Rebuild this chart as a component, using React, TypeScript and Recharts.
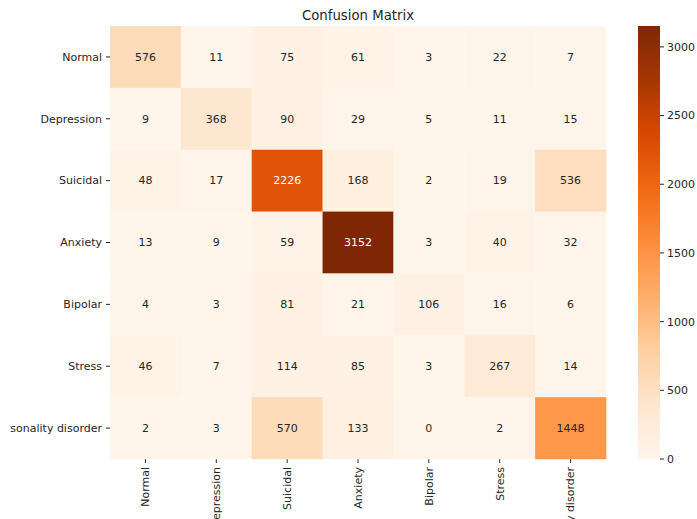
import { ScatterChart, Scatter, XAxis, YAxis, BarChart, Bar } from "recharts"

const labels = ["Normal", "Depression", "Suicidal", "Anxiety", "Bipolar", "Stress", "Personality disorder"]

const rowNormal = [576, 11, 75, 61, 3, 22, 7]
const rowDepression = [9, 368, 90, 29, 5, 11, 15]
const rowSuicidal = [48, 17, 2226, 168, 2, 19, 536]
const rowAnxiety = [13, 9, 59, 3152, 3, 40, 32]
const rowBipolar = [4, 3, 81, 21, 106, 16, 6]
const rowStress = [46, 7, 114, 85, 3, 267, 14]
const rowPersonality = [2, 3, 570, 133, 0, 2, 1448]

const matrix = [rowNormal, rowDepression, rowSuicidal, rowAnxiety, rowBipolar, rowStress, rowPersonality]
const colorbarTicks = [0, 500, 1000, 1500, 2000, 2500, 3000]

const W = 697
const H = 519
const PLOT_LEFT = 110
const PLOT_RIGHT = 606
const PLOT_TOP = 26
const PLOT_BOTTOM = 459
const CELL_W = (PLOT_RIGHT - PLOT_LEFT) / 7
const CELL_H = (PLOT_BOTTOM - PLOT_TOP) / 7
const FONT = "DejaVu Sans, sans-serif"
const INK = "#262626"

const vmax = Math.max(...matrix.flat())
const vmin = Math.min(...matrix.flat())

// matplotlib "Oranges"
const oranges = ["#fff5eb", "#fee6ce", "#fdd0a2", "#fdae6b", "#fd8d3c", "#f16913", "#d94801", "#a63603", "#7f2704"]

function hexToRgb(h: string) {
  return [1, 3, 5].map((i) => parseInt(h.slice(i, i + 2), 16))
}

function colorAt(t: number) {
  const c = Math.min(1, Math.max(0, t)) * (oranges.length - 1)
  const i = Math.min(oranges.length - 2, Math.floor(c))
  const f = c - i
  const a = hexToRgb(oranges[i])
  const b = hexToRgb(oranges[i + 1])
  return a.map((v, k) => Math.round(v + (b[k] - v) * f))
}

function luminance(rgb: number[]) {
  const lin = rgb.map((v) => {
    const s = v / 255
    return s <= 0.03928 ? s / 12.92 : Math.pow((s + 0.055) / 1.055, 2.4)
  })
  return 0.2126 * lin[0] + 0.7152 * lin[1] + 0.0722 * lin[2]
}

const cells = matrix.flatMap((row, i) =>
  row.map((value, j) => ({ x: j + 0.5, y: i + 0.5, value }))
)
const positions = labels.map((_, i) => i + 0.5)

function Cell(props: any) {
  const { cx, cy, payload } = props
  const rgb = colorAt((payload.value - vmin) / (vmax - vmin))
  const textColor = luminance(rgb) > 0.408 ? INK : "#ffffff"
  return (
    <g>
      <rect
        x={cx - CELL_W / 2}
        y={cy - CELL_H / 2}
        width={CELL_W + 0.3}
        height={CELL_H + 0.3}
        fill={`rgb(${rgb.join(",")})`}
      />
      <text x={cx} y={cy} dy="0.35em" textAnchor="middle" fontSize={11} fontFamily={FONT} fill={textColor}>
        {payload.value}
      </text>
    </g>
  )
}

// the reference figure cuts the long row label ~10px in from the left edge
function YTick(props: any) {
  const { x, y, payload } = props
  return (
    <text
      x={x}
      y={y}
      dy="0.35em"
      textAnchor="end"
      fontSize={11}
      fontFamily={FONT}
      fill={INK}
      clipPath="url(#leftEdge)"
    >
      {labels[Math.floor(payload.value)]}
    </text>
  )
}

function XTick(props: any) {
  const { x, y, payload } = props
  return (
    <g transform={`translate(${x},${y})`}>
      <text transform="rotate(-90)" x={0} y={0} dy="0.35em" textAnchor="end" fontSize={11} fontFamily={FONT} fill={INK}>
        {labels[Math.floor(payload.value)]}
      </text>
    </g>
  )
}

const colorbarData = [{ name: "cb", v: vmax }]

export default function App() {
  return (
    <div style={{ position: "absolute", left: 0, top: 0, width: W, height: H, background: "#fff" }}>
      <div
        style={{
          position: "absolute",
          left: PLOT_LEFT,
          width: PLOT_RIGHT - PLOT_LEFT,
          top: 8,
          textAlign: "center",
          fontFamily: FONT,
          fontSize: 13.3,
          color: INK,
        }}
      >
        Confusion Matrix
      </div>
      <div style={{ position: "absolute", left: 0, top: 0 }}>
        <ScatterChart width={W} height={H} margin={{ top: PLOT_TOP, right: W - PLOT_RIGHT, bottom: 0, left: 0 }}>
          <defs>
            <clipPath id="leftEdge" clipPathUnits="userSpaceOnUse">
              <rect x={10} y={0} width={W} height={H} />
            </clipPath>
          </defs>
          <XAxis
            type="number"
            dataKey="x"
            domain={[0, 7]}
            ticks={positions}
            interval={0}
            height={H - PLOT_BOTTOM}
            axisLine={false}
            tickSize={4}
            tickMargin={4}
            tickLine={{ stroke: INK }}
            tick={<XTick />}
          />
          <YAxis
            type="number"
            dataKey="y"
            domain={[0, 7]}
            reversed
            ticks={positions}
            interval={0}
            width={PLOT_LEFT}
            axisLine={false}
            tickSize={4}
            tickMargin={4}
            tickLine={{ stroke: INK }}
            tick={<YTick />}
          />
          <Scatter data={cells} shape={<Cell />} isAnimationActive={false} />
        </ScatterChart>
      </div>
      <div style={{ position: "absolute", left: 0, top: 0 }}>
        <BarChart
          width={W}
          height={H}
          data={colorbarData}
          margin={{ top: PLOT_TOP, right: 0, bottom: H - PLOT_BOTTOM, left: 638 }}
          barCategoryGap={0}
        >
          <defs>
            <linearGradient id="cbGrad" x1="0" y1="1" x2="0" y2="0">
              {oranges.map((c, i) => (
                <stop key={i} offset={`${(i / (oranges.length - 1)) * 100}%`} stopColor={c} />
              ))}
            </linearGradient>
          </defs>
          <XAxis dataKey="name" hide />
          <YAxis
            orientation="right"
            type="number"
            domain={[0, vmax]}
            ticks={colorbarTicks}
            interval={0}
            width={37}
            axisLine={false}
            tickSize={4}
            tickMargin={3}
            tickLine={{ stroke: INK }}
            tick={{ fill: INK, fontSize: 11, fontFamily: FONT }}
          />
          <Bar dataKey="v" fill="url(#cbGrad)" isAnimationActive={false} />
        </BarChart>
      </div>
    </div>
  )
}
